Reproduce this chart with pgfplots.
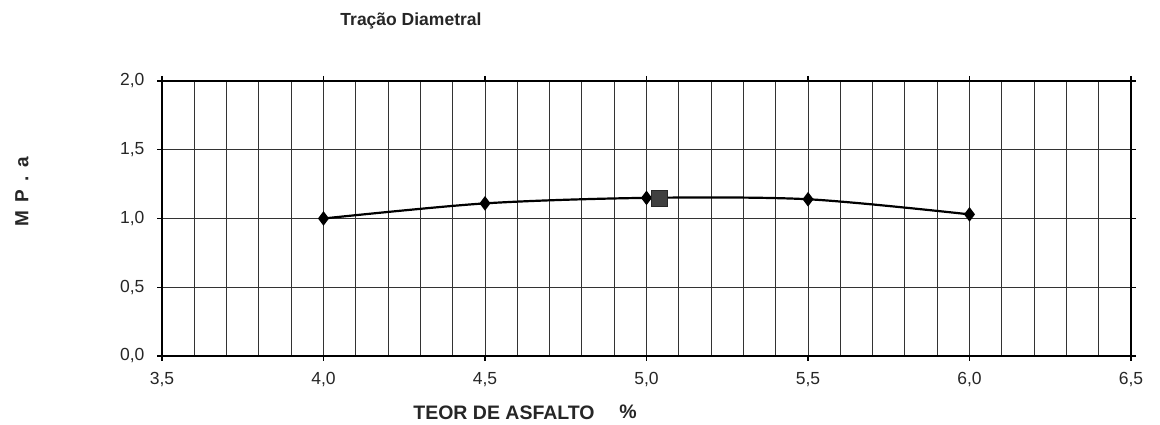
\documentclass[border=0pt]{standalone}
\usepackage{pgfplots}
\pgfplotsset{compat=1.18}
\usepackage{fontspec}
\setmainfont{Liberation Sans}
\begin{document}
\begin{tikzpicture}[x=1pt,y=1pt]
\path[use as bounding box] (0,0) rectangle (1160,425);
\begin{axis}[
  at={(162pt,69pt)}, anchor=south west,
  scale only axis, width=969pt, height=275pt,
  xmin=3.5, xmax=6.5, ymin=0, ymax=2,
  xtick={3.5,4,4.5,5,5.5,6,6.5},
  ytick={0,0.5,1,1.5,2},
  minor x tick num=4,
  xmajorgrids, xminorgrids, ymajorgrids,
  major grid style={line width=1pt, black!80},
  minor grid style={line width=1.1pt, black!80},
  axis line style={line width=2.2pt},
  tick align=outside, major tick length=5pt, minor tick length=0pt,
  tick style={line width=1.2pt, black},
  tick label style={font=\fontsize{17.5}{20}\selectfont, text=black!85},
  xticklabel style={yshift=-8pt},
  yticklabel style={xshift=-9pt},
  /pgf/number format/.cd, use comma, fixed, fixed zerofill, precision=1, assume math mode=true,
]
\addplot[smooth, line width=2.2pt, black, mark=diamond*, mark size=5.5pt, mark options={fill=black}]
  coordinates {(4.0,1.00) (4.5,1.11) (5.0,1.15) (5.5,1.14) (6.0,1.03)};
\addplot[only marks, mark=square*, mark size=8pt, mark options={fill=black!75, draw=black!85}]
  coordinates {(5.04,1.15)};
\end{axis}
\node[font=\bfseries\fontsize{17.5}{20}\selectfont, text=black!85] at (411,404) {Tração Diametral};
\node[font=\bfseries\fontsize{19.5}{22}\selectfont, text=black!85] at (504,12) {TEOR DE ASFALTO};
\node[font=\bfseries\fontsize{19.5}{22}\selectfont, text=black!85] at (628,13) {\%};
\node[font=\bfseries\fontsize{19}{22}\selectfont, text=black!85, rotate=90] at (22,233) {M\, P\, .\, a};
\end{tikzpicture}
\end{document}
